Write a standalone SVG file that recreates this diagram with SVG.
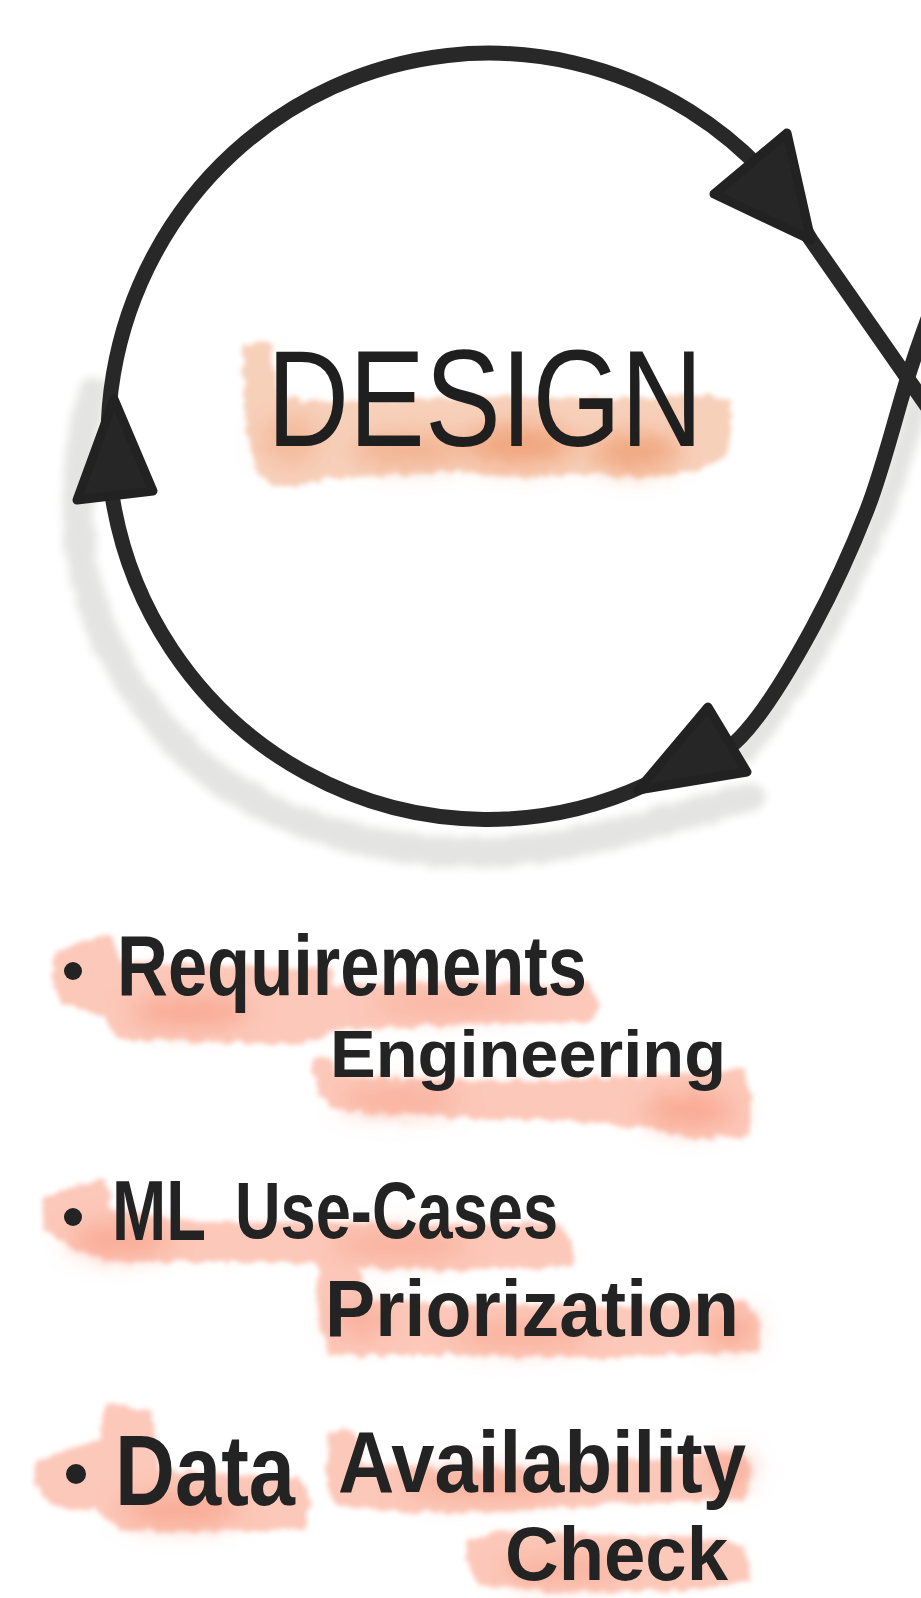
<svg xmlns="http://www.w3.org/2000/svg" width="921" height="1598" viewBox="0 0 921 1598">
<defs>
<style>
.ring{fill:none;stroke:#282828;stroke-width:15;stroke-linecap:round;stroke-linejoin:round}
.head{fill:#262626;stroke:#222;stroke-width:9;stroke-linejoin:round}
.shadow{fill:none;stroke:#e4e4e2;stroke-width:30;stroke-linecap:round}
.title{font-family:"Liberation Sans",Arial,sans-serif;font-size:137px;fill:#1f1f1f}
.item{font-family:"Liberation Sans",Arial,sans-serif;font-weight:bold;fill:#232323}
.hlO{fill:#f7d0ba}
.hlOc{fill:#f0a47c}
.hlP{fill:#fcc8b9}
.hlPc{fill:#f8a690}
.dot{fill:#232323}
</style>
<filter id="wc" x="-15%" y="-40%" width="130%" height="180%">
<feTurbulence type="fractalNoise" baseFrequency="0.09" numOctaves="2" seed="4" result="n"/>
<feDisplacementMap in="SourceGraphic" in2="n" scale="10" xChannelSelector="R" yChannelSelector="G" result="d"/>
<feGaussianBlur in="d" stdDeviation="2.5"/>
</filter>
<filter id="soft" x="-30%" y="-80%" width="160%" height="260%">
<feGaussianBlur stdDeviation="12"/>
</filter>
<filter id="sh" x="-20%" y="-20%" width="140%" height="140%">
<feTurbulence type="fractalNoise" baseFrequency="0.1" numOctaves="2" seed="7" result="n"/>
<feDisplacementMap in="SourceGraphic" in2="n" scale="9" xChannelSelector="R" yChannelSelector="G" result="d"/>
<feGaussianBlur in="d" stdDeviation="4"/>
</filter>
</defs>

<g id="shadow" filter="url(#sh)">
<path class="shadow" d="M 94 392 C 78 440 74 500 82 560 C 95 640 140 710 200 765 C 280 830 390 855 490 852 C 580 850 650 822 750 797"/>
<path class="shadow" d="M 921 392 C 910 430 895 480 881 515 C 860 565 835 615 810 660 C 790 695 770 720 745 752" style="stroke-width:22"/>
</g>

<g id="design-highlight" filter="url(#wc)">
<polygon class="hlO" points="242,345 270,340 280,398 340,402 420,398 500,396 580,398 650,398 705,394 730,402 730,455 700,470 640,478 580,474 520,478 460,470 400,476 330,478 282,488 256,472 246,430"/>
<g filter="url(#soft)">
<ellipse class="hlOc" cx="520" cy="445" rx="55" ry="20"/>
<ellipse class="hlOc" cx="635" cy="452" rx="45" ry="18"/>
<ellipse class="hlOc" cx="410" cy="450" rx="60" ry="16" opacity=".7"/>
<ellipse class="hlOc" cx="290" cy="440" rx="30" ry="25" opacity=".5"/>
</g>
</g>

<g id="connectors">
<path class="ring" d="M 112 495 A 381 386 0 0 1 780 190 L 811 240 L 945 432"/>
<path class="ring" d="M 935 300 C 930 313 918 345 907 380 C 896 415 883 469 867 510 C 851 551 833 590 813 627 C 793 664 768 706 747 730 C 727 754 707 761 690 770 C 673 779 653 782 645 785 A 380 383 0 0 1 112 495"/>
<polygon class="head" points="787,133 714,194 811,240"/>
<polygon class="head" points="708,707 638,790 747,772"/>
<polygon class="head" points="114,399 77,500 153,491"/>
</g>

<g id="design">
<text class="title" x="267" y="446" textLength="436" lengthAdjust="spacingAndGlyphs">DESIGN</text>
</g>

<g id="item-requirements">
<g filter="url(#wc)">
<polygon class="hlP" points="55,952 85,940 112,936 118,962 250,966 330,968 335,985 450,983 590,984 598,1000 594,1022 470,1024 335,1030 300,1045 200,1042 118,1040 105,1015 60,1005 52,980"/>
<polygon class="hlP" points="312,1060 330,1055 338,1075 450,1080 560,1080 700,1072 745,1070 752,1100 748,1135 700,1140 650,1128 560,1120 450,1118 340,1110 318,1095"/>
<g filter="url(#soft)">
<ellipse class="hlPc" cx="190" cy="1012" rx="60" ry="14"/>
<ellipse class="hlPc" cx="450" cy="1004" rx="80" ry="10" opacity=".7"/>
<ellipse class="hlPc" cx="400" cy="1100" rx="60" ry="12" opacity=".8"/>
<ellipse class="hlPc" cx="690" cy="1110" rx="45" ry="16"/>
</g>
</g>
<circle class="dot" cx="73" cy="971" r="9"/>
<text class="item" x="117" y="995" font-size="86" textLength="470" lengthAdjust="spacingAndGlyphs">Requirements</text>
<text class="item" x="330" y="1077" font-size="66" textLength="396" lengthAdjust="spacingAndGlyphs">Engineering</text>
</g>

<g id="item-usecases">
<g filter="url(#wc)">
<polygon class="hlP" points="40,1200 70,1188 105,1178 112,1210 200,1222 330,1222 450,1225 560,1222 572,1245 575,1266 450,1270 350,1268 300,1262 200,1262 110,1262 75,1248 45,1232"/>
<polygon class="hlP" points="318,1262 345,1258 360,1272 365,1300 500,1305 650,1305 745,1300 762,1320 758,1352 600,1358 450,1355 330,1355 318,1320"/>
<g filter="url(#soft)">
<ellipse class="hlPc" cx="120" cy="1240" rx="50" ry="14"/>
<ellipse class="hlPc" cx="400" cy="1245" rx="70" ry="12" opacity=".8"/>
<ellipse class="hlPc" cx="520" cy="1335" rx="70" ry="12" opacity=".8"/>
<ellipse class="hlPc" cx="360" cy="1320" rx="30" ry="18" opacity=".7"/>
<ellipse class="hlPc" cx="730" cy="1330" rx="25" ry="15"/>
</g>
</g>
<circle class="dot" cx="73" cy="1217" r="9"/>
<text class="item" x="112" y="1240" font-size="86" textLength="94" lengthAdjust="spacingAndGlyphs">ML</text>
<text class="item" x="235" y="1238" font-size="80" textLength="323" lengthAdjust="spacingAndGlyphs">Use-Cases</text>
<text class="item" x="325" y="1336" font-size="80" textLength="414" lengthAdjust="spacingAndGlyphs">Priorization</text>
</g>

<g id="item-data">
<g filter="url(#wc)">
<polygon class="hlP" points="35,1460 70,1448 100,1440 105,1405 150,1410 160,1470 300,1478 310,1500 305,1530 200,1532 120,1530 100,1512 50,1505 36,1485"/>
<polygon class="hlP" points="328,1435 345,1426 360,1440 362,1465 500,1468 650,1460 740,1450 752,1470 745,1500 600,1505 500,1512 400,1512 335,1505 325,1470"/>
<polygon class="hlP" points="466,1540 500,1530 600,1535 700,1538 745,1545 750,1580 700,1590 560,1592 480,1585 466,1560"/>
<g filter="url(#soft)">
<ellipse class="hlPc" cx="180" cy="1510" rx="60" ry="14"/>
<ellipse class="hlPc" cx="480" cy="1485" rx="80" ry="12" opacity=".8"/>
<ellipse class="hlPc" cx="560" cy="1570" rx="60" ry="12" opacity=".8"/>
<ellipse class="hlPc" cx="730" cy="1470" rx="20" ry="15"/>
</g>
</g>
<circle class="dot" cx="76" cy="1474" r="10"/>
<text class="item" x="115" y="1505" font-size="100" textLength="180" lengthAdjust="spacingAndGlyphs">Data</text>
<text class="item" x="338" y="1492" font-size="88" textLength="408" lengthAdjust="spacingAndGlyphs">Availability</text>
<text class="item" x="505" y="1580" font-size="76" textLength="223" lengthAdjust="spacingAndGlyphs">Check</text>
</g>
</svg>
